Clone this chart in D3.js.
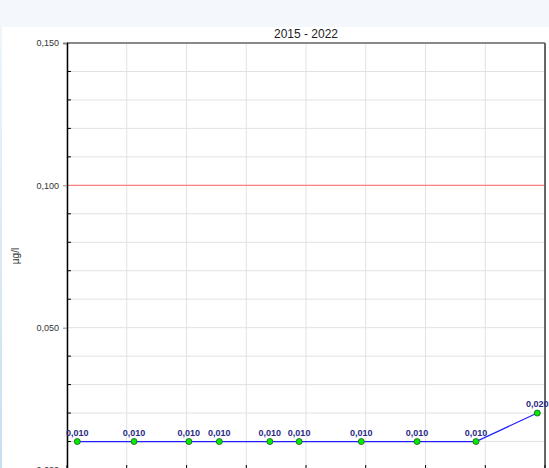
<!DOCTYPE html>
<html>
<head>
<meta charset="utf-8">
<script src="https://cdn.jsdelivr.net/npm/d3@7"></script>
<style>
  body { margin: 0; background: #f4f8fc; font-family: "Liberation Sans", Arial, sans-serif; }
</style>
</head>
<body>
<svg id="chart"></svg>
<script>
// sampling dates and measured values (µg/l)
const dates = ["2015-03-05", "2016-02-15", "2017-01-15", "2017-07-20", "2018-05-25",
  "2018-11-20", "2019-12-05", "2020-11-10", "2021-11-05", "2022-11-15"];
const values = [0.010, 0.010, 0.010, 0.010, 0.010, 0.010, 0.010, 0.010, 0.010, 0.020];
const limitValue = 0.100;
const yTicks = [0, 0.05, 0.1, 0.15];
const title = "2015 - 2022";
const unit = "µg/l";

const data = dates.map((d, i) => ({ date: new Date(d), value: values[i] }));

const width = 549, height = 468;
const margin = { top: 43, right: 4, bottom: -2, left: 67 };

const svg = d3.select("#chart").attr("width", width).attr("height", height);

// backgrounds
const defs = svg.append("defs");
const grad = defs.append("linearGradient").attr("id", "side").attr("x1", 0).attr("y1", 0).attr("x2", 0).attr("y2", 1);
grad.append("stop").attr("offset", "0%").attr("stop-color", "#eef5fb");
grad.append("stop").attr("offset", "100%").attr("stop-color", "#c6dfee");
svg.append("rect").attr("width", width).attr("height", height).attr("fill", "#f4f8fc");
svg.append("rect").attr("x", 0).attr("y", 27).attr("width", 2).attr("height", height - 27).attr("fill", "url(#side)");
svg.append("rect").attr("x", 2).attr("y", 27).attr("width", width - 2).attr("height", height - 27).attr("fill", "#fff");

const x = d3.scaleTime()
  .domain([new Date("2015-01-01"), new Date("2023-01-01")])
  .range([margin.left, width - margin.right]);
const y = d3.scaleLinear()
  .domain([0, 0.15])
  .range([height - margin.bottom, margin.top]);

const fmt = (v) => d3.format(".3f")(v).replace(".", ",");

// grid
const minor = d3.range(0, 0.1501, 0.01);
svg.append("g").selectAll("line").data(minor).join("line")
  .attr("x1", x.range()[0]).attr("x2", x.range()[1])
  .attr("y1", (d) => y(d)).attr("y2", (d) => y(d))
  .attr("stroke", "#e2e2e2").attr("stroke-width", 1);
svg.append("g").selectAll("line").data(x.ticks(d3.timeYear.every(1))).join("line")
  .attr("x1", (d) => x(d)).attr("x2", (d) => x(d))
  .attr("y1", y(0.15)).attr("y2", y(0))
  .attr("stroke", "#e2e2e2").attr("stroke-width", 1);

// limit line
svg.append("line")
  .attr("x1", x.range()[0]).attr("x2", x.range()[1])
  .attr("y1", y(limitValue)).attr("y2", y(limitValue))
  .attr("stroke", "#ff8080").attr("stroke-width", 1.2);

// frame
svg.append("line").attr("x1", x.range()[0]).attr("x2", x.range()[1])
  .attr("y1", y(0.15)).attr("y2", y(0.15)).attr("stroke", "#666").attr("stroke-width", 1.5);
svg.append("line").attr("x1", x.range()[1]).attr("x2", x.range()[1])
  .attr("y1", y(0.15)).attr("y2", y(0)).attr("stroke", "#666").attr("stroke-width", 2);

// y axis
const yAxis = svg.append("g")
  .attr("transform", `translate(${x.range()[0]},0)`)
  .call(d3.axisLeft(y).tickValues(yTicks).tickFormat(fmt).tickSize(4).tickPadding(4));
yAxis.select(".domain").attr("stroke", "#000").attr("stroke-width", 1.5);
yAxis.selectAll(".tick line").attr("stroke", "#888");
yAxis.selectAll("text").attr("font-size", 9).attr("fill", "#333")
  .attr("font-family", "Liberation Sans, Arial, sans-serif");
svg.append("g").selectAll("line").data(minor.filter((d) => Math.round(d * 1000) % 50 !== 0)).join("line")
  .attr("x1", x.range()[0]).attr("x2", x.range()[0] + 4)
  .attr("y1", (d) => y(d)).attr("y2", (d) => y(d))
  .attr("stroke", "#000");

// x ticks (inward from the bottom)
svg.append("g").selectAll("line").data(x.ticks(d3.timeYear.every(1))).join("line")
  .attr("x1", (d) => x(d)).attr("x2", (d) => x(d))
  .attr("y1", y(0)).attr("y2", y(0) - 5)
  .attr("stroke", "#000");

// title and unit
svg.append("text").attr("x", (x.range()[0] + x.range()[1]) / 2).attr("y", 38)
  .attr("text-anchor", "middle").attr("font-size", 12).attr("fill", "#222").text(title);
svg.append("text").attr("transform", `translate(19,${256}) rotate(-90)`)
  .attr("text-anchor", "middle").attr("font-size", 10).attr("fill", "#333").text(unit);

// series
const line = d3.line().x((d) => x(d.date)).y((d) => y(d.value));
svg.append("path").datum(data).attr("d", line)
  .attr("fill", "none").attr("stroke", "#2020ff").attr("stroke-width", 1.2);
svg.append("g").selectAll("circle").data(data).join("circle")
  .attr("cx", (d) => x(d.date)).attr("cy", (d) => y(d.value)).attr("r", 3)
  .attr("fill", "#00ee00").attr("stroke", "#205020").attr("stroke-width", 0.8);
svg.append("g").selectAll("text").data(data).join("text")
  .attr("x", (d) => x(d.date)).attr("y", (d) => y(d.value) - 6)
  .attr("text-anchor", "middle").attr("font-size", 9).attr("font-weight", "bold")
  .attr("fill", "#2a2a86").text((d) => fmt(d.value));
</script>
</body>
</html>
